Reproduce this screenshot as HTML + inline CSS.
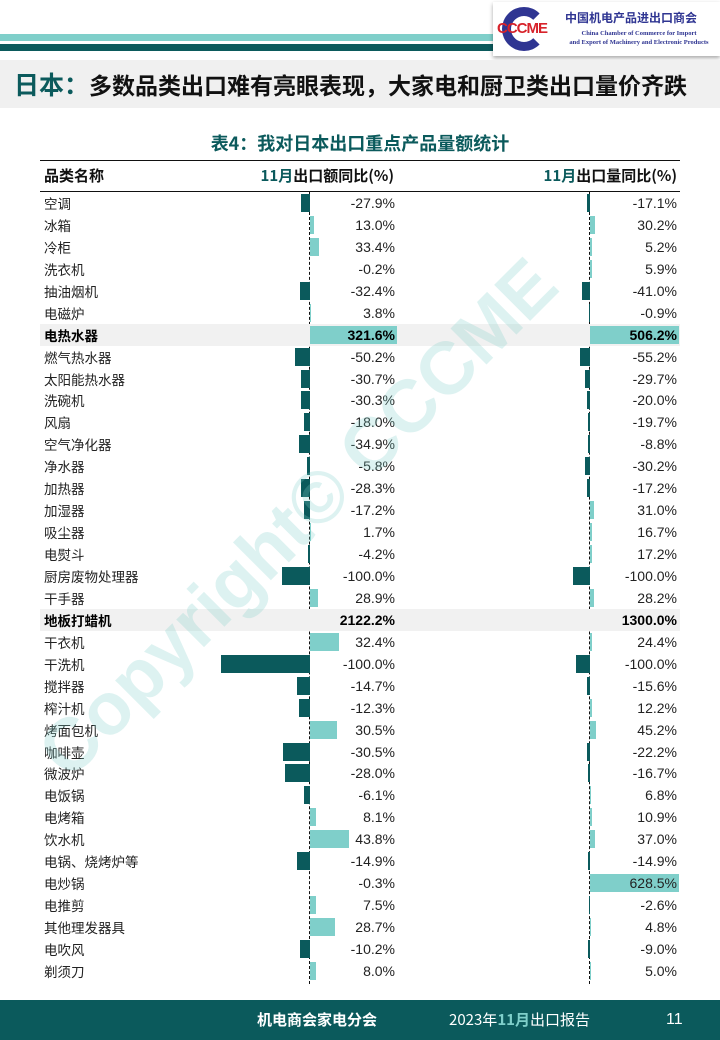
<!DOCTYPE html>
<html><head><meta charset="utf-8">
<style>
*{margin:0;padding:0;box-sizing:border-box}
body{width:720px;height:1040px;position:relative;background:#fff;overflow:hidden;font-family:"Liberation Sans","Noto Sans CJK SC",sans-serif}
.abs{position:absolute}
.row{position:absolute;left:40px;width:640px;height:22px;font-size:14px;color:#222;line-height:22px}
.row .n{position:absolute;left:4px;top:0;font-family:"Noto Sans CJK SC",sans-serif;font-size:13.5px;line-height:22px}
.row .v1{position:absolute;right:285px;top:0}
.row .v2{position:absolute;right:3px;top:0}
.bar{position:absolute;top:2px;height:18px}
.hl{background:#f1f1f1;font-weight:bold;color:#000}
</style></head><body>
<div class="abs" style="left:0;top:34px;width:500px;height:7px;background:#7fcfca"></div>
<div class="abs" style="left:0;top:44px;width:500px;height:7px;background:#0b5a5c"></div>
<div class="abs" style="left:493px;top:2px;width:227px;height:54px;background:#fff;box-shadow:0 2px 4px rgba(0,0,0,.35)"></div>
<div class="abs" style="left:502px;top:7px;width:44px;height:44px;border-radius:50%;border:9px solid #2f3592;border-right-color:transparent"></div>
<div class="abs" style="left:497px;top:20px;font:bold 15px 'Liberation Sans',sans-serif;color:#d7222a;letter-spacing:-1px">CCCME</div>
<div class="abs" style="left:565px;top:9px;font-size:12px;font-weight:bold;color:#2f3592;font-family:'Noto Sans CJK SC',sans-serif">中国机电产品进出口商会</div>
<div class="abs" style="left:562px;top:29px;width:154px;font:bold 6.5px 'Liberation Serif',serif;color:#2f3592;line-height:9px;text-align:center;white-space:nowrap">China Chamber of Commerce for Import<br>and Export of Machinery and Electronic Products</div>
<div class="abs" style="left:0;top:60px;width:720px;height:48px;background:#f0f0f0"></div>
<div class="abs" style="left:14px;top:64px;font-size:25px;font-weight:bold;color:#0b5a5c;font-family:'Noto Sans CJK SC',sans-serif;white-space:nowrap;line-height:40px">日本：<span style="color:#111;font-size:23px">多数品类出口难有亮眼表现，大家电和厨卫类出口量价齐跌</span></div>
<div class="abs" style="left:0;top:130px;width:720px;text-align:center;font-size:18px;font-weight:bold;color:#0b5a5c;font-family:'Noto Sans CJK SC',sans-serif;line-height:26px">表4：我对日本出口重点产品量额统计</div>
<div class="abs" style="left:40px;top:160px;width:640px;border-top:1.5px solid #111"></div>
<div class="abs" style="left:44px;top:164px;font-size:15px;font-weight:bold;color:#111;font-family:'Noto Sans CJK SC',sans-serif;line-height:24px">品类名称</div>
<div class="abs" style="right:326px;top:164px;font-size:15px;font-weight:bold;color:#111;font-family:'Noto Sans CJK SC',sans-serif;line-height:24px"><span style="color:#0b5a5c">11月</span>出口额同比(%)</div>
<div class="abs" style="right:43px;top:164px;font-size:15px;font-weight:bold;color:#111;font-family:'Noto Sans CJK SC',sans-serif;line-height:24px"><span style="color:#0b5a5c">11月</span>出口量同比(%)</div>
<div class="abs" style="left:40px;top:191px;width:640px;border-top:1.5px solid #111"></div>
<div class="abs" style="left:309px;top:192px;height:792px;border-left:1px dashed #111"></div>
<div class="abs" style="left:589px;top:192px;height:792px;border-left:1px dashed #111"></div>
<div id="rows"></div>
<div class="abs" style="left:78px;top:716px;font-size:74px;font-weight:bold;color:#7fcfca;opacity:.26;transform:rotate(-45deg);transform-origin:left bottom;white-space:nowrap;line-height:74px">Copyright© CCCME</div>
<div class="abs" style="left:0;top:1000px;width:720px;height:40px;background:#0b5a5c;color:#fff">
<div class="abs" style="left:257px;top:8px;font-size:15px;font-weight:bold;font-family:'Noto Sans CJK SC',sans-serif;line-height:24px">机电商会家电分会</div>
<div class="abs" style="left:449px;top:8px;font-size:15px;font-family:'Noto Sans CJK SC',sans-serif;line-height:24px">2023年<b style="color:#7fcfca">11月</b>出口报告</div>
<div class="abs" style="left:666px;top:8px;font-size:16px;line-height:24px">11</div>
</div>
<script>
var d=[["空调","-27.9%",-9,"-17.1%",-3],["冰箱","13.0%",4,"30.2%",5],["冷柜","33.4%",9,"5.2%",2],["洗衣机","-0.2%",0,"5.9%",2],["抽油烟机","-32.4%",-10,"-41.0%",-8],["电磁炉","3.8%",1,"-0.9%",-1],["电热水器","321.6%",87,"506.2%",89,1],["燃气热水器","-50.2%",-15,"-55.2%",-10],["太阳能热水器","-30.7%",-9,"-29.7%",-5],["洗碗机","-30.3%",-9,"-20.0%",-3],["风扇","-18.0%",-6,"-19.7%",-2],["空气净化器","-34.9%",-11,"-8.8%",-2],["净水器","-5.8%",-3,"-30.2%",-5],["加热器","-28.3%",-9,"-17.2%",-3],["加湿器","-17.2%",-6,"31.0%",4],["吸尘器","1.7%",1,"16.7%",2],["电熨斗","-4.2%",-2,"17.2%",2],["厨房废物处理器","-100.0%",-28,"-100.0%",-17],["干手器","28.9%",8,"28.2%",4],["地板打蜡机","2122.2%",0,"1300.0%",0,1],["干衣机","32.4%",29,"24.4%",2],["干洗机","-100.0%",-89,"-100.0%",-14],["搅拌器","-14.7%",-13,"-15.6%",-3],["榨汁机","-12.3%",-11,"12.2%",2],["烤面包机","30.5%",27,"45.2%",6],["咖啡壶","-30.5%",-27,"-22.2%",-3],["微波炉","-28.0%",-25,"-16.7%",-2],["电饭锅","-6.1%",-6,"6.8%",1],["电烤箱","8.1%",6,"10.9%",2],["饮水机","43.8%",39,"37.0%",5],["电锅、烧烤炉等","-14.9%",-13,"-14.9%",-2],["电炒锅","-0.3%",0,"628.5%",89],["电推剪","7.5%",6,"-2.6%",-1],["其他理发器具","28.7%",25,"4.8%",1],["电吹风","-10.2%",-10,"-9.0%",-2],["剃须刀","8.0%",6,"5.0%",1]];
var h="";
function bar(ax,w){if(!w)return"";var c=w>0?"#7fcfca":"#0b5a5c";var l=w>0?ax:ax+w;return '<div class="bar" style="left:'+l+'px;width:'+Math.abs(w)+'px;background:'+c+'"></div>';}
for(var i=0;i<d.length;i++){var r=d[i];var t=192+i*21.94;
h+='<div class="row'+(r[5]?' hl':'')+'" style="top:'+t+'px">'+bar(270,r[2])+bar(550,r[4])+'<span class="n">'+r[0]+'</span><span class="v1">'+r[1]+'</span><span class="v2">'+r[3]+'</span></div>';}
document.getElementById("rows").innerHTML=h;
</script>
</body></html>
